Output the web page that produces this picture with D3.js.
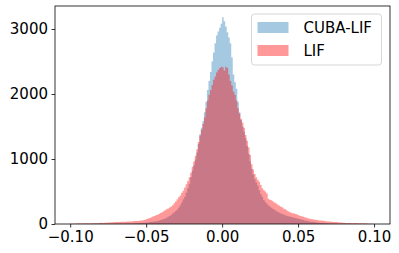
<!DOCTYPE html>
<html>
<head>
<meta charset="utf-8">
<script src="https://cdn.jsdelivr.net/npm/d3@7"></script>
<style>
  body { margin: 0; background: #fff; }
  svg text { font-family: "DejaVu Sans", sans-serif; fill: #000; }
  .axis path, .axis line { stroke: #000; stroke-width: 0.8; }
</style>
</head>
<body>
<div id="chart-area"></div>
<script>
// histogram bins (width 0.001, first bin starts at -0.1), heights
const binStart = -0.1;
const binWidth = 0.001;

const cubaCounts = [
  0,0,1,0,0,1,0,1,0,1,
  1,0,1,1,2,1,1,2,1,2,
  2,2,3,2,3,3,4,3,4,5,
  4,5,5,6,5,6,7,6,7,8,
  8,9,10,11,12,13,15,16,18,20,
  22,25,29,33,36,40,44,48,54,60,
  68,76,86,98,110,125,142,160,180,200,
  225,255,290,330,380,420,480,550,620,720,
  820,900,990,1100,1230,1380,1480,1580,1720,1880,
  2060,2200,2340,2500,2640,2780,2900,2960,3020,3080,
  3180,3120,3040,2950,2870,2780,2560,2300,2180,2080,
  1880,1720,1600,1500,1420,1320,1200,1080,960,850,
  760,690,640,590,520,460,420,370,340,310,
  290,270,250,235,220,205,190,178,165,155,
  145,135,128,120,115,108,103,98,92,86,
  78,72,66,60,55,50,45,40,36,33,
  30,27,24,21,18,16,14,12,10,9,
  7,6,6,5,5,4,4,3,3,3,
  2,2,2,2,1,1,1,1,1,1,
  1,0,1,0,0,1,0,0,0,0
];

const lifCounts = [
  3,5,4,8,6,10,9,10,8,11,
  10,12,9,11,13,12,14,12,15,16,
  18,17,20,19,22,24,23,26,28,30,
  29,32,31,33,35,34,36,38,37,40,
  42,41,45,47,46,50,52,55,60,66,
  78,84,92,104,115,122,134,142,155,170,
  180,195,210,228,240,252,268,290,318,345,
  380,410,440,480,510,560,610,660,720,790,
  880,960,1050,1150,1260,1360,1450,1540,1640,1780,
  1900,1990,2060,2140,2220,2270,2330,2370,2400,2420,
  2410,2360,2420,2400,2300,2200,2130,2040,1990,1900,
  1780,1700,1620,1560,1480,1370,1280,1180,1060,920,
  840,770,720,680,650,600,550,520,500,470,
  390,375,365,350,330,320,300,285,270,258,
  240,228,210,195,185,175,165,160,152,145,
  135,125,118,110,102,95,88,82,78,74,
  70,64,60,57,55,52,50,46,42,40,
  37,35,34,32,31,30,28,25,22,20,
  18,16,15,16,14,15,13,15,14,12,
  12,10,11,9,10,6,3,4,2,3
];

const seriesNames = ["CUBA-LIF", "LIF"];
const seriesColors = ["#1f77b4", "red"];
const xTicks = [-0.10, -0.05, 0.00, 0.05, 0.10];
const yTicks = [0, 1000, 2000, 3000];

const W = 399, H = 253;
const margin = {top: 6, right: 9, bottom: 29, left: 55};

const svg = d3.select("#chart-area").append("svg")
  .attr("width", W)
  .attr("height", H);

const x = d3.scaleLinear()
  .domain([-0.11, 0.1105])
  .range([margin.left, W - margin.right]);

const y = d3.scaleLinear()
  .domain([0, 3354])
  .range([H - margin.bottom, margin.top]);

// turn counts into step points at bin edges
function steps(counts) {
  let pts = counts.map((c, i) => ({x0: binStart + i * binWidth, c: c}));
  pts.push({x0: binStart + counts.length * binWidth, c: counts[counts.length - 1]});
  return pts;
}

const area = d3.area()
  .curve(d3.curveStepAfter)
  .x(d => x(d.x0))
  .y0(y(0))
  .y1(d => y(d.c));

[cubaCounts, lifCounts].forEach((counts, k) => {
  svg.append("path")
    .datum(steps(counts))
    .attr("d", area)
    .attr("fill", seriesColors[k])
    .attr("fill-opacity", 0.4);
});

// axes
const xAxis = d3.axisBottom(x)
  .tickValues(xTicks)
  .tickFormat(d => d3.format(".2f")(d).replace("-", "\u2212"))
  .tickSize(3.5)
  .tickPadding(3.5);

const yAxis = d3.axisLeft(y)
  .tickValues(yTicks)
  .tickFormat(d3.format("d"))
  .tickSize(3.5)
  .tickPadding(3.5);

svg.append("g")
  .attr("class", "x-axis axis")
  .attr("transform", "translate(0," + (H - margin.bottom) + ")")
  .call(xAxis)
  .call(g => g.select(".domain").remove());

svg.append("g")
  .attr("class", "y-axis axis")
  .attr("transform", "translate(" + margin.left + ",0)")
  .call(yAxis)
  .call(g => g.select(".domain").remove());

svg.selectAll(".axis text")
  .style("font-size", "15px")
  .style("font-family", "DejaVu Sans, sans-serif");

// frame
svg.append("rect")
  .attr("x", margin.left)
  .attr("y", margin.top)
  .attr("width", W - margin.left - margin.right)
  .attr("height", H - margin.top - margin.bottom)
  .attr("fill", "none")
  .attr("stroke", "#000")
  .attr("stroke-width", 0.8);

// legend
const legend = svg.append("g").attr("transform", "translate(251.5,14)");

legend.append("rect")
  .attr("width", 130)
  .attr("height", 51)
  .attr("rx", 3)
  .attr("fill", "#fff")
  .attr("fill-opacity", 0.8)
  .attr("stroke", "#cccccc")
  .attr("stroke-width", 0.8);

seriesNames.forEach((name, k) => {
  legend.append("rect")
    .attr("x", 6)
    .attr("y", 8 + k * 23)
    .attr("width", 31)
    .attr("height", 11)
    .attr("fill", seriesColors[k])
    .attr("fill-opacity", 0.4);

  legend.append("text")
    .attr("x", 52)
    .attr("y", 14 + k * 23)
    .attr("dy", "0.36em")
    .style("font-size", "15px")
    .text(name);
});
</script>
</body>
</html>
